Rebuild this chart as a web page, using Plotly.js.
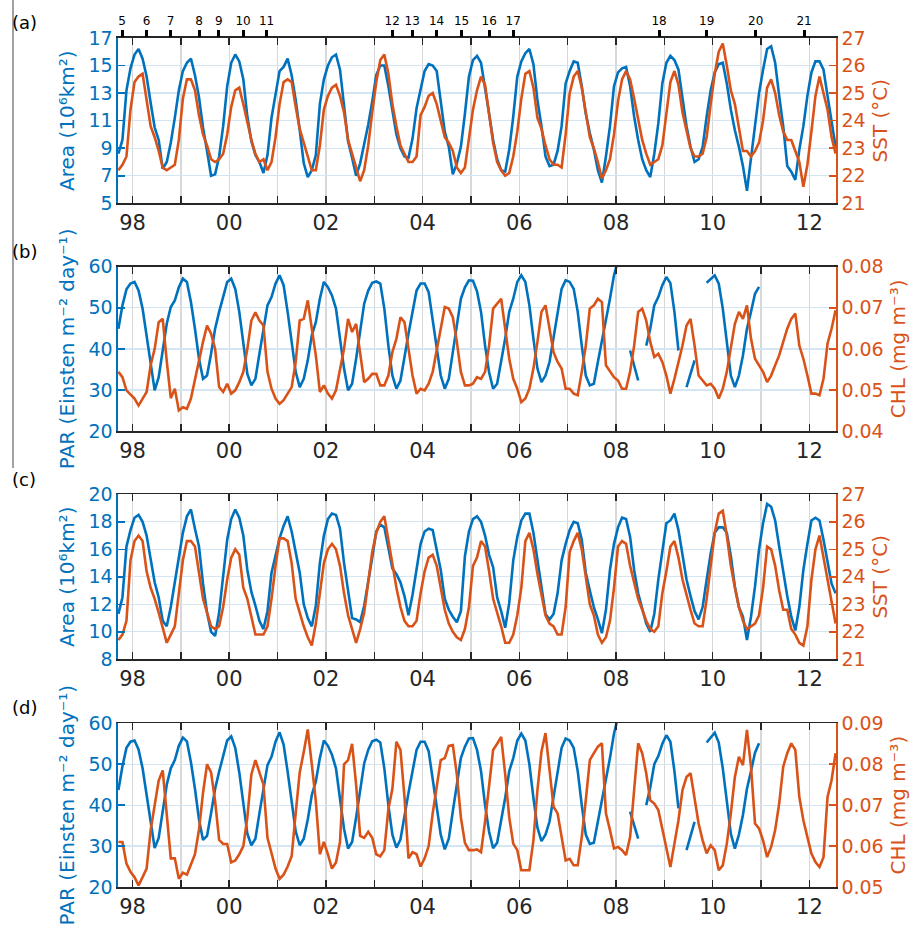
<!DOCTYPE html>
<html>
<head>
<meta charset="utf-8">
<script src="https://cdn.plot.ly/plotly-3.0.1.min.js"></script>
<style>
html,body{margin:0;padding:0;background:#fff;}
#chart{width:918px;height:928px;}
</style>
</head>
<body>
<div id="chart"></div>
<script>
// ---- time axis (monthly values, first value = Sep 1997) ----
const startYear = 1997;
const startMonth = 9;
const nMonths = 179;
const labelYears = [1998,2000,2002,2004,2006,2008,2010,2012];
const yearLabels = ["98","00","02","04","06","08","10","12"];
const minorYears = [1999,2001,2003,2005,2007,2009,2011];

// ---- event markers on top axis of panel (a) ----
const eventPos = [1997.785,1998.29,1998.786,1999.378,1999.786,2000.288,2000.773,2003.371,2003.785,2004.29,2004.807,2005.378,2005.875,2008.89,2009.877,2010.89,2011.89];
const eventLabels = ["5","6","7","8","9","10","11","12","13","14","15","16","17","18","19","20","21"];

// ---- panel (a): Area (10^6 km^2) and SST (degC) ----
const areaA = [8.6,9.6,13.2,14.8,15.8,16.2,15.5,14.2,12.3,10.5,9.6,7.5,8.0,9.4,11.2,13.2,14.6,15.2,15.5,14.3,12.7,10.5,8.8,7.0,7.1,8.4,10.6,13.5,15.2,15.8,15.3,14.0,11.3,9.5,8.5,8.0,7.2,8.5,11.2,13.0,14.6,14.9,15.5,14.3,12.5,10.3,7.9,6.9,7.4,8.5,12.2,14.0,15.0,15.6,15.8,14.7,12.0,9.5,8.3,7.0,7.9,9.2,10.7,12.4,14.3,15.0,15.0,13.5,11.8,10.0,9.0,8.4,8.3,9.7,11.9,13.2,14.6,15.1,15.0,14.6,12.5,10.2,9.1,7.1,7.9,
9.1,11.5,14.2,15.4,15.7,15.2,13.5,11.5,9.6,8.2,7.4,7.3,8.9,11.3,14.2,15.3,15.9,16.2,15.1,12.5,10.6,8.4,7.7,7.8,8.8,10.6,13.7,14.6,15.3,15.2,13.5,11.5,10.1,8.9,7.4,6.5,8.4,10.6,13.5,14.5,14.8,14.9,13.5,11.3,9.6,8.2,7.4,6.9,8.6,10.8,13.7,15.2,15.7,15.4,14.7,12.5,10.6,9.1,8.0,8.2,9.1,11.3,13.2,14.5,15.1,15.2,13.7,11.8,10.3,9.1,7.7,5.9,8.2,10.6,13.0,14.7,16.2,16.4,15.2,12.8,10.6,7.7,7.3,6.7,8.9,10.6,12.8,14.5,15.3,15.3,14.7,12.8,11.1,9.1];
const sstA = [22.2,22.4,22.7,24.4,25.4,25.6,25.7,24.8,23.8,23.4,22.9,22.3,22.2,22.3,22.4,23.3,24.8,25.5,25.5,25.1,24.2,23.5,23.1,22.6,22.5,22.6,22.8,23.5,24.5,25.1,25.2,24.6,23.9,23.3,22.8,22.5,22.6,22.2,22.5,23.4,24.6,25.4,25.5,25.4,24.5,23.7,23.2,22.7,22.2,22.2,23.1,24.4,24.9,25.2,25.3,24.9,24.3,23.3,22.8,22.3,21.8,22.2,23.1,24.3,25.4,26.2,26.4,25.7,24.6,23.8,23.1,22.8,22.5,22.5,22.7,24.2,24.5,24.9,25.0,24.6,24.0,23.4,23.2,22.9,22.3,
22.1,22.3,23.4,24.4,25.1,25.6,25.3,24.3,23.2,22.5,22.2,22.0,22.1,22.7,23.6,24.8,25.7,25.8,25.2,24.1,23.7,23.1,22.6,22.4,22.4,22.3,23.5,25.0,25.6,25.8,25.2,24.3,23.4,23.0,22.5,21.9,22.2,22.6,23.5,24.7,25.5,25.8,25.5,24.8,24.1,23.3,22.8,22.4,22.5,22.6,23.1,24.2,25.4,25.8,25.3,24.3,23.6,23.0,22.7,22.7,22.8,23.4,24.6,25.7,26.5,26.8,26.0,25.1,24.6,23.8,22.9,22.9,22.7,22.9,23.2,24.0,25.2,25.5,25.0,24.2,23.6,23.3,23.3,22.9,22.5,21.6,22.4,23.6,24.9,25.6,25.0,24.4,23.4,22.8];

// ---- panel (b): PAR (Einsten m^-2 day^-1) and CHL (mg m^-3) ----
const parB = [44.9,50.6,54.5,55.9,56.3,54.2,49.8,43.3,36.4,29.9,33.1,39.6,46.1,50.2,51.8,55.0,57.1,56.3,51.4,44.9,37.6,32.7,33.5,38.8,44.9,49.0,53.0,56.3,57.1,54.6,49.0,40.8,33.9,31.1,32.7,38.8,44.9,50.6,52.6,55.9,57.9,55.5,49.0,41.3,34.4,30.7,
32.7,37.2,43.3,46.5,52.2,56.3,55.0,53.0,49.8,42.5,35.2,29.9,31.5,37.6,44.9,51.0,54.2,56.1,56.4,55.9,49.8,40.8,33.5,30.3,32.3,38.4,43.7,49.0,54.2,55.9,55.9,53.8,47.3,39.6,33.5,30.3,32.7,39.2,45.7,52.2,55.0,56.7,56.6,54.0,
49.0,40.8,34.3,30.3,31.5,36.8,42.5,49.0,52.2,56.3,57.9,56.3,50.6,42.5,35.2,31.9,33.5,36.8,42.5,48.2,54.6,56.7,56.3,54.6,49.0,40.8,33.5,31.1,31.5,36.8,41.7,47.3,52.2,57.9,61.5,
null,null,39.6,36.0,32.3,null,40.8,44.9,50.6,52.6,55.5,57.5,56.0,49.0,39.6,null,30.7,34.0,37.2,null,null,
56.1,57.0,57.9,55.9,49.8,41.7,33.5,30.7,33.5,38.4,44.9,49.0,53.4,55.1,
null,null,null,null,null,null,null,null,null,null,null,null,null,null,null,null,null,null,null];
const chlB = [0.0544,0.0531,0.0499,0.0489,0.0479,0.0462,0.0479,0.0495,0.0560,0.0600,0.0665,0.0673,0.0570,0.0480,0.0503,0.0450,0.0458,0.0454,0.0479,0.0527,0.0576,0.0617,0.0657,0.0637,0.0600,0.0507,0.0495,0.0515,0.0491,0.0499,0.0519,0.0544,0.0600,0.0669,0.0689,0.0669,0.0657,0.0544,0.0503,0.0479,0.0466,0.0475,0.0491,0.0507,0.0568,0.0669,
0.0673,0.0718,0.0649,0.0584,0.0495,0.0511,0.0491,0.0479,0.0499,0.0552,0.0600,0.0673,0.0641,0.0661,0.0584,0.0519,0.0527,0.0539,0.0539,0.0511,0.0511,0.0535,0.0592,0.0625,0.0677,0.0665,0.0600,0.0535,0.0491,0.0503,0.0499,0.0515,0.0544,0.0592,0.0649,0.0702,0.0698,0.0677,0.0617,0.0544,0.0511,0.0511,0.0515,0.0531,
0.0527,0.0544,0.0608,0.0698,0.0710,0.0722,0.0649,0.0576,0.0527,0.0503,0.0470,0.0479,0.0503,0.0552,0.0617,0.0690,0.0706,0.0649,0.0592,0.0568,0.0552,0.0503,0.0503,0.0491,0.0487,0.0544,0.0608,0.0698,0.0706,0.0722,0.0714,0.0560,0.0544,0.0531,0.0523,0.0503,0.0503,0.0544,0.0608,0.0690,0.0698,0.0669,0.0617,0.0580,0.0588,
0.0568,0.0535,0.0491,0.0527,0.0568,0.0608,0.0657,0.0673,0.0608,0.0535,0.0523,0.0511,0.0515,0.0503,0.0479,0.0503,0.0544,0.0600,0.0661,0.0690,0.0673,0.0706,0.0625,0.0576,0.0560,0.0544,0.0519,0.0535,0.0560,0.0584,0.0617,0.0649,0.0673,0.0686,0.0608,0.0576,0.0535,0.0491,0.0491,0.0487,0.0527,0.0613,0.0649,0.0694];

// ---- panel (c): Area (10^6 km^2) and SST (degC) ----
const areaC = [11.3,12.5,16.2,17.4,18.3,18.5,18.0,17.0,15.3,13.6,12.5,10.8,10.4,11.8,13.6,15.5,17.2,18.4,18.9,17.5,16.2,13.5,11.4,10.0,9.7,11.4,14.3,16.7,18.2,18.9,18.3,17.0,14.5,12.9,11.9,10.8,10.2,11.5,14.3,15.6,16.8,17.7,18.4,17.3,15.8,14.3,12.0,11.0,10.4,11.9,15.0,17.0,18.2,18.6,18.5,17.5,15.0,12.9,11.0,10.9,10.7,11.9,13.5,15.4,17.3,17.8,17.6,16.0,14.6,14.2,13.6,12.6,11.2,12.7,14.5,16.4,17.3,17.5,17.4,16.0,14.5,12.4,11.6,11.1,10.7,
11.5,15.5,17.3,18.2,18.4,18.0,17.0,15.6,14.7,12.5,11.5,10.3,12.1,15.2,16.9,18.1,18.6,18.6,17.2,15.2,13.3,11.3,10.9,11.3,12.8,15.2,16.4,17.4,18.0,17.9,16.7,14.3,13.0,11.8,10.9,9.9,11.6,14.5,16.4,17.6,18.3,18.2,16.9,14.5,12.8,11.6,10.6,10.0,11.3,13.8,15.7,17.9,18.1,18.6,17.4,15.5,13.8,12.6,11.5,10.9,11.8,13.8,15.7,17.2,17.6,17.6,17.2,15.5,13.3,11.8,11.1,9.4,11.1,13.3,16.0,17.9,19.3,19.1,18.1,16.2,14.3,12.6,11.1,10.1,11.8,14.5,16.4,18.1,18.3,18.1,16.7,15.2,13.5,12.8];
const sstC = [21.7,21.9,22.4,24.6,25.3,25.5,25.3,24.2,23.6,23.2,22.7,22.1,21.6,21.9,22.2,23.4,24.6,25.3,25.3,25.1,24.1,23.2,22.7,22.2,22.1,22.2,22.9,23.9,24.7,25.0,24.8,23.6,23.2,22.6,21.9,21.9,21.9,22.2,23.2,24.4,25.4,25.4,25.3,24.5,23.2,22.7,22.2,21.8,21.5,22.3,23.4,24.5,25.0,25.2,25.0,24.4,23.4,22.6,22.1,21.6,22.1,22.7,23.8,24.9,25.6,26.0,26.2,25.3,24.4,23.6,22.9,22.4,22.2,22.2,22.4,23.4,24.2,24.7,24.8,24.4,23.6,22.8,22.3,22.0,21.8,
21.7,22.1,22.9,24.4,24.7,25.3,25.1,24.2,23.2,22.7,22.2,21.6,21.6,21.9,22.6,23.6,25.3,25.6,25.0,24.1,23.4,22.6,22.3,22.2,21.9,21.9,22.9,24.9,25.3,25.6,25.0,23.9,23.0,22.6,21.9,21.6,21.8,22.4,23.6,25.1,25.3,25.2,24.4,23.8,23.2,22.8,22.4,22.1,22.0,22.2,23.4,24.2,25.1,25.3,24.7,23.9,23.3,22.8,22.3,22.2,22.2,23.2,24.4,25.6,26.3,26.4,25.5,24.4,23.6,22.9,22.4,22.1,22.2,22.3,22.6,23.6,25.1,25.0,24.4,23.5,22.8,22.8,22.1,21.9,21.6,21.5,22.2,23.9,25.0,25.5,24.7,23.9,23.2,22.3];

// ---- panel (d): PAR (Einsten m^-2 day^-1) and CHL (mg m^-3) ----
const parD = [43.7,49.5,54.0,55.5,55.8,53.6,49.0,42.5,35.5,29.5,32.0,38.5,45.0,49.0,51.0,54.5,56.5,55.6,50.5,44.0,36.5,31.5,32.5,38.0,44.0,48.2,52.3,55.8,56.8,54.0,48.0,40.0,33.0,30.2,31.8,38.0,44.0,49.8,51.8,55.5,57.8,54.8,48.2,40.5,33.6,30.2,
31.8,36.5,42.5,45.8,51.5,55.8,54.5,52.3,49.0,41.5,34.2,29.4,31.0,37.0,44.0,50.2,53.5,55.6,56.0,55.3,49.0,40.0,32.8,29.6,31.6,37.6,43.0,48.3,53.5,55.5,55.5,53.2,46.6,38.8,32.8,29.2,31.8,38.5,45.0,51.5,54.3,56.3,56.4,53.5,
48.3,40.0,33.5,29.5,30.8,36.0,41.8,48.3,51.5,55.8,57.5,55.8,50.0,41.8,34.5,31.2,32.8,36.0,41.8,47.5,54.0,56.3,55.8,54.0,48.3,40.0,32.8,30.5,30.8,36.0,41.0,46.6,51.5,57.5,61.5,
null,null,38.4,35.0,31.8,null,40.0,44.3,50.0,52.0,55.0,57.1,55.5,48.3,39.2,null,29.0,32.5,35.9,null,null,
55.3,56.5,57.7,55.3,49.0,41.0,33.0,29.4,32.8,37.6,44.0,48.3,52.8,55.1,
null,null,null,null,null,null,null,null,null,null,null,null,null,null,null,null,null,null,null];
const chlD = [0.0610,0.0610,0.0557,0.0537,0.0524,0.0504,0.0524,0.0545,0.0639,0.0700,
0.0760,0.0785,0.0680,0.0570,0.0570,0.0520,0.0535,0.0530,0.0555,0.0580,
0.0640,0.0730,0.0800,0.0780,0.0710,0.0615,0.0605,0.0605,0.0560,0.0565,
0.0580,0.0600,0.0670,0.0775,0.0810,0.0780,0.0750,0.0620,0.0580,0.0545,
0.0520,0.0530,0.0550,0.0575,0.0680,0.0780,0.0830,0.0885,0.0800,0.0710,
0.0580,0.0610,0.0580,0.0545,0.0560,0.0610,0.0800,0.0810,0.0850,0.0750,
0.0625,0.0620,0.0635,0.0620,0.0580,0.0575,0.0590,0.0690,0.0740,0.0855,
0.0835,0.0720,0.0570,0.0585,0.0580,0.0550,0.0570,0.0600,0.0680,0.0740,
0.0810,0.0815,0.0845,0.0847,0.0775,0.0670,0.0608,0.0590,0.0590,0.0592,
0.0585,0.0660,0.0750,0.0835,0.0850,0.0867,0.0775,0.0670,0.0606,0.0590,
0.0541,0.0541,0.0541,0.0614,0.0737,0.0831,0.0876,0.0786,0.0696,0.0680,
0.0622,0.0565,0.0569,0.0553,0.0553,0.0622,0.0712,0.0810,0.0827,0.0843,
0.0851,0.0680,0.0639,0.0594,0.0598,0.0590,0.0578,0.0622,0.0737,0.0851,
0.0827,0.0778,0.0712,0.0704,0.0688,0.0639,0.0590,0.0549,0.0606,0.0663,
0.0737,0.0769,0.0778,0.0720,0.0655,0.0614,0.0582,0.0602,0.0590,0.0541,
0.0553,0.0606,0.0680,0.0769,0.0818,0.0798,0.0884,0.0794,0.0655,0.0643,
0.0614,0.0573,0.0598,0.0639,0.0704,0.0794,0.0827,0.0851,0.0835,0.0720,
0.0663,0.0622,0.0582,0.0561,0.0549,0.0573,0.0720,0.0761,0.0827];

// ---- build monthly decimal-year positions (mid-month) ----
const months = [];
for (let i = 0; i < nMonths; i++) {
  months.push(startYear + (startMonth - 1 + i + 0.5) / 12);
}

const BLUE = '#0072BD', ORANGE = '#D95319', INK = '#262626';
const FONT = 'DejaVu Sans';
const XR = [1997.70, 2012.55];
const XGRID = '#d8d8d8';

function line(y, xa, ya, color) {
  return {x: months, y: y, xaxis: xa, yaxis: ya, type: 'scatter', mode: 'lines',
          line: {color: color, width: 2.6}, hoverinfo: 'skip', connectgaps: false};
}
const traces = [
  line(areaA, 'x', 'y', BLUE), line(sstA, 'x', 'y2', ORANGE),
  line(parB, 'x2', 'y3', BLUE), line(chlB, 'x2', 'y4', ORANGE),
  line(areaC, 'x3', 'y5', BLUE), line(sstC, 'x3', 'y6', ORANGE),
  line(parD, 'x4', 'y7', BLUE), line(chlD, 'x4', 'y8', ORANGE),
  {x: [eventPos[0]], y: [null], xaxis: 'x5', yaxis: 'y', type: 'scatter', mode: 'lines', hoverinfo: 'skip'}
];

function xAxis(anchor) {
  return {domain: [0, 1], anchor: anchor, range: XR, tickmode: 'array', tickvals: labelYears, ticktext: yearLabels,
          ticks: 'inside', ticklen: 7, tickwidth: 1.5, tickcolor: INK, showline: true, linewidth: 1.6, linecolor: INK,
          mirror: 'allticks', showgrid: true, gridcolor: XGRID, gridwidth: 1.3, zeroline: false,
          minor: {tickmode: 'array', tickvals: minorYears, ticks: 'inside', ticklen: 7, tickwidth: 1.5, tickcolor: INK,
                  showgrid: true, gridcolor: XGRID, gridwidth: 1.3},
          tickfont: {family: FONT, size: 21, color: INK}, fixedrange: true};
}
function yLeft(domain, anchor, range, vals, title) {
  return {domain: domain, anchor: anchor, range: range, tickmode: 'array', tickvals: vals,
          ticks: 'inside', ticklen: 7, tickwidth: 1.5, tickcolor: BLUE, showline: true, linewidth: 1.6, linecolor: BLUE,
          showgrid: true, gridcolor: '#d4e6f4', gridwidth: 1.3, zeroline: false,
          tickfont: {family: FONT, size: 19, color: BLUE},
          title: {text: title, font: {family: FONT, size: 20, color: BLUE}, standoff: 8}, fixedrange: true};
}
function yRight(over, anchor, range, vals, fmt, title) {
  return {overlaying: over, side: 'right', anchor: anchor, range: range, tickmode: 'array', tickvals: vals, tickformat: fmt,
          ticks: 'inside', ticklen: 7, tickwidth: 1.5, tickcolor: ORANGE, showline: true, linewidth: 1.6, linecolor: ORANGE,
          showgrid: false, zeroline: false,
          tickfont: {family: FONT, size: 19, color: ORANGE},
          title: {text: title, font: {family: FONT, size: 20, color: ORANGE}, standoff: 8}, fixedrange: true};
}

const dA = [0.8053, 1.0], dB = [0.5371, 0.7306], dC = [0.2682, 0.4625], dD = [0.0, 0.1928];
const areaTitle = 'Area (10\u2076km\u00b2)';
const parTitle = 'PAR (Einsten m\u207b\u00b2 day\u207b\u00b9)';
const chlTitle = 'CHL (mg m\u207b\u00b3)';
const sstTitle = 'SST (\u00b0C)';

function px2x(px) { return (px - 118) / 718; }
function py2y(py) { return (887 - py) / 849; }
function panelLabel(t, py) {
  return {text: t, xref: 'paper', yref: 'paper', x: px2x(10), y: py2y(py), xanchor: 'left', yanchor: 'middle',
          showarrow: false, font: {family: FONT, size: 18, color: '#000'}};
}

const layout = {
  width: 918, height: 928,
  margin: {l: 118, r: 82, t: 38, b: 41, pad: 0},
  paper_bgcolor: '#fff', plot_bgcolor: '#fff',
  showlegend: false,
  font: {family: FONT, color: INK},
  xaxis: xAxis('y'),
  xaxis2: xAxis('y3'),
  xaxis3: xAxis('y5'),
  xaxis4: xAxis('y7'),
  xaxis5: {overlaying: 'x', side: 'top', anchor: 'y', range: XR, tickmode: 'array', tickvals: eventPos, ticktext: eventLabels,
           ticks: 'outside', ticklen: 7, tickwidth: 3, tickcolor: '#000', showline: false, showgrid: false, zeroline: false,
           tickfont: {family: FONT, size: 12, color: '#000'}, fixedrange: true},
  yaxis: yLeft(dA, 'x', [5, 17], [5, 7, 9, 11, 13, 15, 17], areaTitle),
  yaxis2: yRight('y', 'x', [21, 27], [21, 22, 23, 24, 25, 26, 27], '', sstTitle),
  yaxis3: yLeft(dB, 'x2', [20, 60], [20, 30, 40, 50, 60], parTitle),
  yaxis4: yRight('y3', 'x2', [0.04, 0.08], [0.04, 0.05, 0.06, 0.07, 0.08], '.2f', chlTitle),
  yaxis5: yLeft(dC, 'x3', [8, 20], [8, 10, 12, 14, 16, 18, 20], areaTitle),
  yaxis6: yRight('y5', 'x3', [21, 27], [21, 22, 23, 24, 25, 26, 27], '', sstTitle),
  yaxis7: yLeft(dD, 'x4', [20, 60], [20, 30, 40, 50, 60], parTitle),
  yaxis8: yRight('y7', 'x4', [0.05, 0.09], [0.05, 0.06, 0.07, 0.08, 0.09], '.2f', chlTitle),
  annotations: [panelLabel('(a)', 22), panelLabel('(b)', 251), panelLabel('(c)', 479), panelLabel('(d)', 707)],
  shapes: [{type: 'line', xref: 'paper', yref: 'paper', x0: px2x(13), x1: px2x(13), y0: py2y(0), y1: py2y(468),
            line: {color: '#444', width: 1}}]
};

Plotly.newPlot('chart', traces, layout, {displayModeBar: false, staticPlot: true});
</script>
</body>
</html>
